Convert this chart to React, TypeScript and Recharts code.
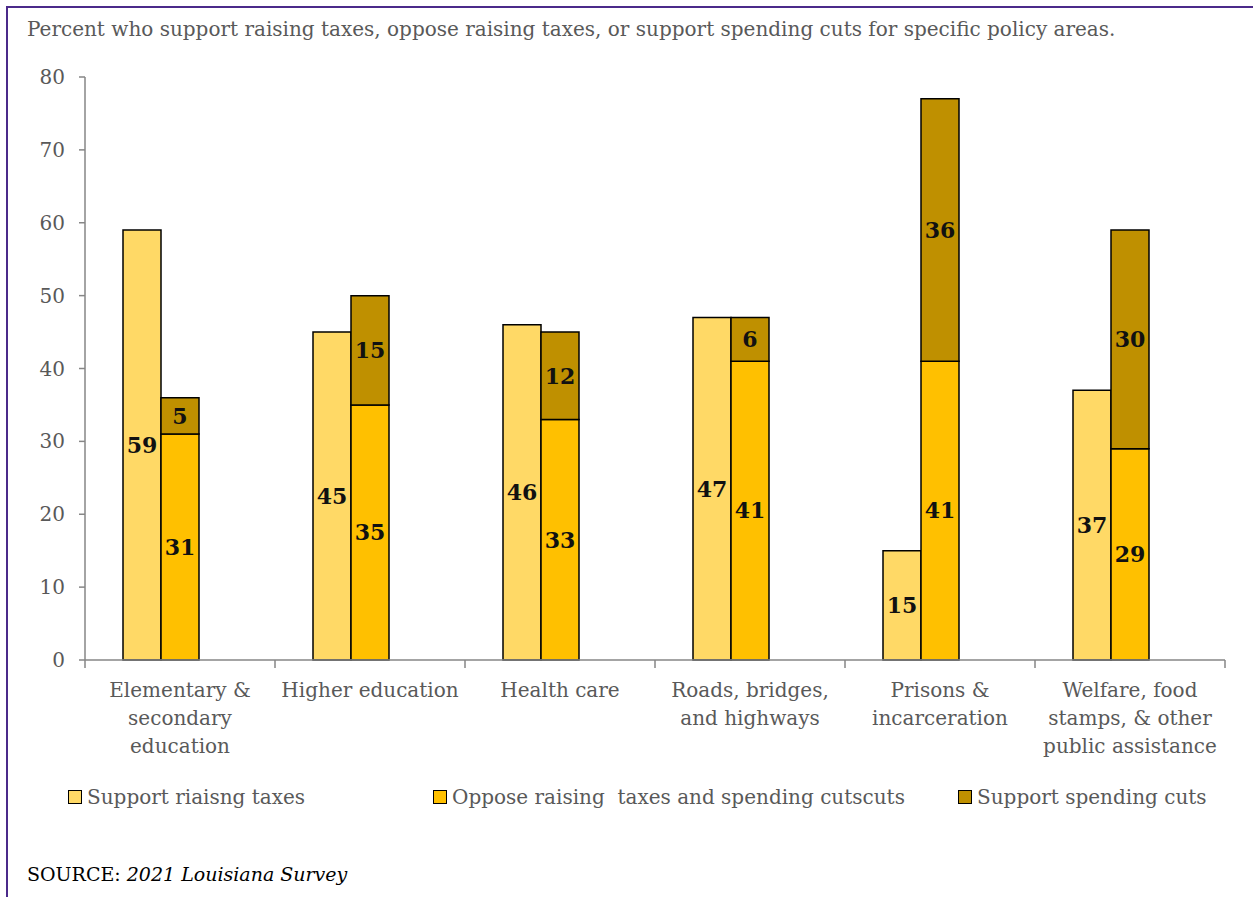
import React from 'react';
import { BarChart, Bar, XAxis, YAxis, LabelList } from 'recharts';

const categories = [
  'Elementary &\nsecondary\neducation',
  'Higher education',
  'Health care',
  'Roads, bridges,\nand highways',
  'Prisons &\nincarceration',
  'Welfare, food\nstamps, & other\npublic assistance',
];
const supportRaising = [59, 45, 46, 47, 15, 37];
const opposeRaising = [31, 35, 33, 41, 41, 29];
const supportCuts = [5, 15, 12, 6, 36, 30];
const yTicks = [0, 10, 20, 30, 40, 50, 60, 70, 80];

const seriesNames = [
  'Support riaisng taxes',
  'Oppose raising  taxes and spending cutscuts',
  'Support spending cuts',
];
const colors = ['#FFD966', '#FFC000', '#BF9000'];

const data = categories.map((name, i) => ({
  name,
  raise: supportRaising[i],
  oppose: opposeRaising[i],
  cuts: supportCuts[i],
}));

const FONT = '"DejaVu Serif", serif';
const GRAY = '#595959';
const AXIS = '#868686';

// category label plus tick marks on the category boundaries
const CategoryTick = (props: any) => {
  const { x, y, payload, index, visibleTicksCount } = props;
  const half = payload.offset || 0;
  const axisY = y - 8;
  const lines = String(payload.value).split('\n');
  const last = index === (visibleTicksCount ?? categories.length) - 1;
  return (
    <g>
      <line x1={x - half} x2={x - half} y1={axisY} y2={axisY + 8} stroke={AXIS} strokeWidth={1.5} />
      {last && <line x1={x + half} x2={x + half} y1={axisY} y2={axisY + 8} stroke={AXIS} strokeWidth={1.5} />}
      <text x={x} y={axisY + 37} textAnchor="middle" fill={GRAY} fontFamily={FONT} fontSize={20}>
        {lines.map((l, i) => (
          <tspan key={i} x={x} dy={i === 0 ? 0 : 28}>
            {l}
          </tspan>
        ))}
      </text>
    </g>
  );
};

const labelStyle = { fontFamily: FONT, fontSize: 22, fontWeight: 700, fill: '#111' };

export default function App() {
  const legendX = [68, 433, 958];
  return (
    <div style={{ position: 'absolute', left: 0, top: 0, width: 1253, height: 897, background: '#fff', overflow: 'hidden' }}>
      <div style={{ position: 'absolute', left: 6, top: 6, width: 1300, height: 1000, borderLeft: '2px solid #4B2A8A', borderTop: '2px solid #4B2A8A' }} />
      <div style={{ position: 'absolute', left: 27, top: 17, fontFamily: FONT, fontSize: 20, color: GRAY, whiteSpace: 'nowrap' }}>
        Percent who support raising taxes, oppose raising taxes, or support spending cuts for specific policy areas.
      </div>
      <div style={{ position: 'absolute', left: 0, top: 0 }}>
        <BarChart
          width={1253}
          height={897}
          data={data}
          margin={{ top: 77, right: 28, bottom: 236, left: 25 }}
          barGap={0}
          barCategoryGap="20%"
        >
          <XAxis
            dataKey="name"
            axisLine={{ stroke: AXIS, strokeWidth: 1.5 }}
            tickLine={false}
            tickSize={6}
            tickMargin={2}
            tick={<CategoryTick />}
            interval={0}
            height={1}
          />
          <YAxis
            width={60}
            domain={[0, 80]}
            ticks={yTicks}
            axisLine={{ stroke: AXIS, strokeWidth: 1.5 }}
            tickLine={{ stroke: AXIS, strokeWidth: 1.5 }}
            tickSize={6}
            tickMargin={14}
            tick={{ fill: GRAY, fontFamily: FONT, fontSize: 20 }}
          />
          <Bar dataKey="raise" stackId="a" fill={colors[0]} stroke="#000" strokeWidth={1.5} isAnimationActive={false}>
            <LabelList dataKey="raise" position="center" style={labelStyle} />
          </Bar>
          <Bar dataKey="oppose" stackId="b" fill={colors[1]} stroke="#000" strokeWidth={1.5} isAnimationActive={false}>
            <LabelList dataKey="oppose" position="center" style={labelStyle} />
          </Bar>
          <Bar dataKey="cuts" stackId="b" fill={colors[2]} stroke="#000" strokeWidth={1.5} isAnimationActive={false}>
            <LabelList dataKey="cuts" position="center" style={labelStyle} />
          </Bar>
          {/* empty third slot, as in the original layout */}
          <Bar dataKey="spacer" stackId="c" fill="none" isAnimationActive={false} />
        </BarChart>
      </div>
      {seriesNames.map((n, i) => (
        <div key={n} style={{ position: 'absolute', left: legendX[i], top: 785, display: 'flex', alignItems: 'center', fontFamily: FONT, fontSize: 20, color: GRAY, whiteSpace: 'pre' }}>
          <span style={{ display: 'inline-block', width: 12, height: 12, background: colors[i], border: '1.5px solid #000', marginRight: 5 }} />
          {n}
        </div>
      ))}
      <div style={{ position: 'absolute', left: 27, top: 863, fontFamily: FONT, fontSize: 19, color: '#000', whiteSpace: 'nowrap' }}>
        SOURCE: <i>2021 Louisiana Survey</i>
      </div>
    </div>
  );
}
